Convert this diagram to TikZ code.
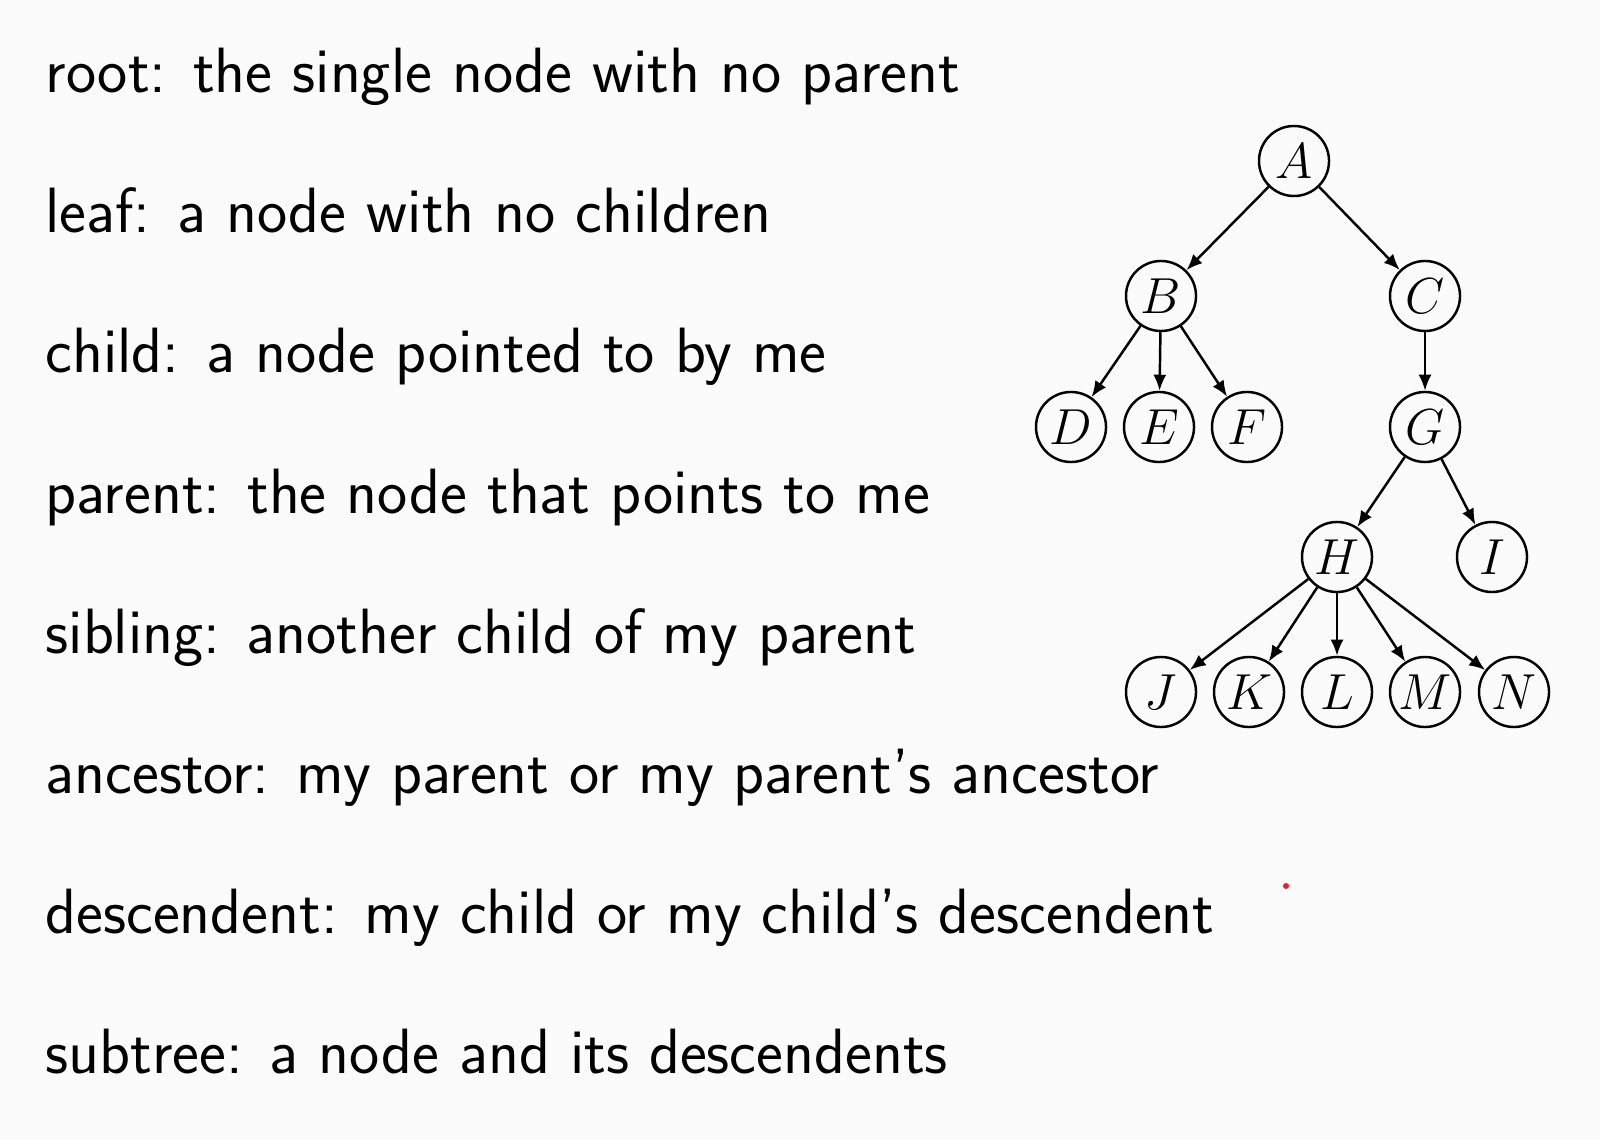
\documentclass[tikz,border=0pt]{standalone}
\usepackage{tikz}
\usetikzlibrary{arrows.meta, positioning}
\definecolor{slidecolor}{RGB}{251,251,251}
\definecolor{pointercolor}{RGB}{225,35,35}

\begin{document}
\begin{tikzpicture}[
    x=0.01cm, y=-0.01cm,
    term/.style={anchor=base west, inner sep=0pt, font=\fontsize{18.2}{22}\selectfont\sffamily},
    vertex/.style={draw, circle, line width=0.7pt, minimum size=0.7cm, inner sep=0pt, font=\fontsize{15.5}{18}\selectfont},
    link/.style={-{Latex[length=1.6mm, width=1.3mm]}, line width=0.7pt}
]
    % Slide
    \fill[slidecolor] (0,0) rectangle (1600,1140);
    \useasboundingbox (0,0) rectangle (1600,1140);

    % Definitions
    \node[term] (root) at (45,93) {root: the single node with no parent};
    \node[term] (leaf) at (45,233) {leaf: a node with no children};
    \node[term] (child) at (45,373) {child: a node pointed to by me};
    \node[term] (parent) at (45,513) {parent: the node that points to me};
    \node[term] (sibling) at (45,653) {sibling: another child of my parent};
    \node[term] (ancestor) at (45,793) {ancestor: my parent or my parent's ancestor};
    \node[term] (descendent) at (45,933) {descendent: my child or my child's descendent};
    \node[term] (subtree) at (45,1073) {subtree: a node and its descendents};

    % Tree
    \node[vertex] (A) at (1294,161) {$A$};
    \node[vertex] (B) at (1161,296) {$B$};
    \node[vertex] (C) at (1425,296) {$C$};
    \node[vertex] (D) at (1071,427) {$D$};
    \node[vertex] (E) at (1159,427) {$E$};
    \node[vertex] (F) at (1247,427) {$F$};
    \node[vertex] (G) at (1425,427) {$G$};
    \node[vertex] (H) at (1337,557) {$H$};
    \node[vertex] (I) at (1492,557) {$I$};
    \node[vertex] (J) at (1161,692) {$J$};
    \node[vertex] (K) at (1249,692) {$K$};
    \node[vertex] (L) at (1337,692) {$L$};
    \node[vertex] (M) at (1425,692) {$M$};
    \node[vertex] (N) at (1514,692) {$N$};

    % Edges
    \draw[link] (A) -- (B);
    \draw[link] (A) -- (C);
    \draw[link] (B) -- (D);
    \draw[link] (B) -- (E);
    \draw[link] (B) -- (F);
    \draw[link] (C) -- (G);
    \draw[link] (G) -- (H);
    \draw[link] (G) -- (I);
    \draw[link] (H) -- (J);
    \draw[link] (H) -- (K);
    \draw[link] (H) -- (L);
    \draw[link] (H) -- (M);
    \draw[link] (H) -- (N);

    % Pointer
    \fill[pointercolor] (1286,886) circle (0.03cm);
\end{tikzpicture}
\end{document}
